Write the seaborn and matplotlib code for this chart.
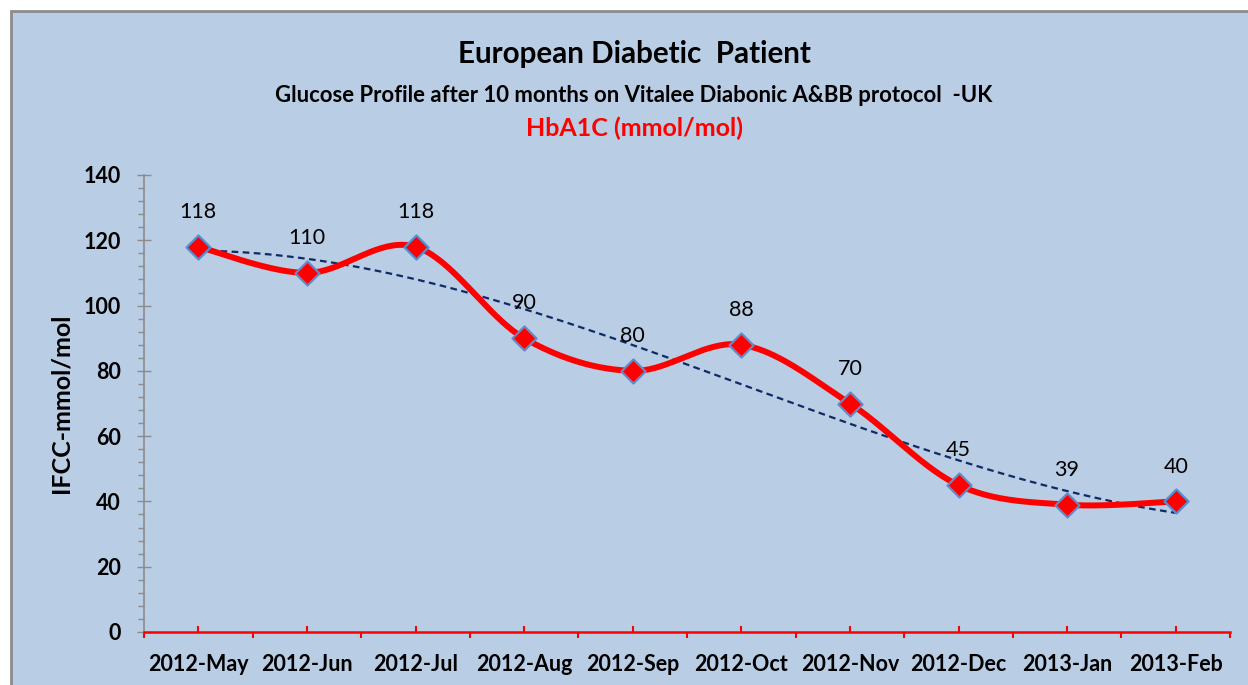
import numpy as np
import pandas as pd
import matplotlib
matplotlib.use("Agg")
import matplotlib.pyplot as plt
import seaborn as sns
from matplotlib.patches import Rectangle
from matplotlib.ticker import MultipleLocator, FixedLocator

# ---- data ----
months = ["2012-May", "2012-Jun", "2012-Jul", "2012-Aug", "2012-Sep",
          "2012-Oct", "2012-Nov", "2012-Dec", "2013-Jan", "2013-Feb"]
hba1c = [118, 110, 118, 90, 80, 88, 70, 45, 39, 40]

title = "European Diabetic  Patient"
subtitle = "Glucose Profile after 10 months on Vitalee Diabonic A&BB protocol  -UK"
series_title = "HbA1C (mmol/mol)"
ylabel = "IFCC-mmol/mol"

sns.set_theme(style="white")
plt.rcParams["font.family"] = ["Lato", "DejaVu Sans"]
plt.rcParams["text.color"] = "black"
plt.rcParams["axes.labelcolor"] = "black"
plt.rcParams["xtick.labelcolor"] = "black"
plt.rcParams["ytick.labelcolor"] = "black"

W, H = 1248, 685
fig = plt.figure(figsize=(W / 100, H / 100), dpi=100, facecolor="white")
bg = Rectangle((10.5 / W, -0.1), 1.2, (H - 10.5) / H + 0.1, transform=fig.transFigure,
               facecolor="#B9CDE5", edgecolor="#8C8C8C", linewidth=2.0, zorder=-5)
fig.patches.append(bg)

ax = fig.add_axes([144 / W, 53 / H, 1086 / W, 457 / H])
ax.set_facecolor("none")
ax.set_zorder(2)

idx = np.arange(len(months))
df = pd.DataFrame({"month": months, "x": idx, "value": hba1c})


def smooth_curve(xs, ys, n=40):
    P = np.column_stack([xs, ys]).astype(float)
    out = []
    for i in range(len(P) - 1):
        p0 = P[i - 1] if i > 0 else P[i]
        p1 = P[i]
        p2 = P[i + 1]
        p3 = P[i + 2] if i + 2 < len(P) else P[i + 1]
        c1 = p1 + (p2 - p0) / 6
        c2 = p2 - (p3 - p1) / 6
        t = np.linspace(0, 1, n)[:, None]
        seg = (1 - t) ** 3 * p1 + 3 * (1 - t) ** 2 * t * c1 + 3 * (1 - t) * t ** 2 * c2 + t ** 3 * p2
        out.append(seg if i == 0 else seg[1:])
    return np.vstack(out)


curve = smooth_curve(df["x"].values, df["value"].values)
curve_df = pd.DataFrame({"x": curve[:, 0], "y": curve[:, 1]})

# trendline (polynomial fit of the data)
coef = np.polyfit(df["x"].values, df["value"].values, 3)
xt = np.linspace(0, len(months) - 1, 200)
trend_df = pd.DataFrame({"x": xt, "y": np.polyval(coef, xt)})

sns.lineplot(data=trend_df, x="x", y="y", ax=ax, color="#0F2A66", lw=1.6,
             estimator=None, sort=False, zorder=3)
ax.lines[-1].set_dashes((3, 2))
sns.lineplot(data=curve_df, x="x", y="y", ax=ax, color="#FF0000", lw=4.3,
             estimator=None, sort=False, zorder=4)
sns.scatterplot(data=df, x="x", y="value", ax=ax, marker="D", s=150,
                color="#FF0000", edgecolor="#5B8CCB", linewidth=1.6, zorder=5)

for xi, v in zip(df["x"], df["value"]):
    ax.annotate(str(v), (xi, v), xytext=(0, 25), textcoords="offset points",
                ha="center", va="center", fontsize=15.5, color="black")

ax.set_xlim(-0.5, len(months) - 0.5)
ax.set_ylim(0, 140)

# x axis
ax.xaxis.set_major_locator(FixedLocator(idx))
ax.set_xticklabels(months, fontsize=15.5, fontweight="bold")
ax.xaxis.set_minor_locator(FixedLocator(np.arange(-0.5, len(months), 1.0)))
ax.tick_params(axis="x", which="major", direction="in", length=4.5, width=1.5,
               color="#FF0000", pad=16, bottom=True)
ax.tick_params(axis="x", which="minor", direction="out", length=4.5, width=1.5,
               color="#FF0000", bottom=True)

# y axis
ax.yaxis.set_major_locator(MultipleLocator(20))
ax.yaxis.set_minor_locator(MultipleLocator(4))
ax.tick_params(axis="y", which="major", direction="inout", length=9.5, width=1.0,
               color="#8C8C8C", pad=12, left=True, labelsize=15.5)
ax.tick_params(axis="y", which="minor", direction="out", length=4.5, width=1.0,
               color="#8C8C8C", left=True)
for lab in ax.get_yticklabels():
    lab.set_fontweight("bold")

ax.set_xlabel("")
ax.set_ylabel(ylabel, fontsize=18, fontweight="bold")
ax.yaxis.set_label_coords(-0.0654, 0.5)

for s in ["top", "right"]:
    ax.spines[s].set_visible(False)
ax.spines["left"].set_color("#8C8C8C")
ax.spines["left"].set_linewidth(1.2)
ax.spines["bottom"].set_color("#FF0000")
ax.spines["bottom"].set_linewidth(1.8)

cx = 634 / W
fig.text(cx, 1 - 54 / H, title, ha="center", va="center", fontsize=21.3, fontweight="bold")
fig.text(cx, 1 - 96 / H, subtitle, ha="center", va="center", fontsize=15.9, fontweight="bold")
fig.text(cx, 1 - 128 / H, series_title, ha="center", va="center", fontsize=18,
         fontweight="bold", color="#FF0000")

fig.savefig("out.png", dpi=100, facecolor="white")
